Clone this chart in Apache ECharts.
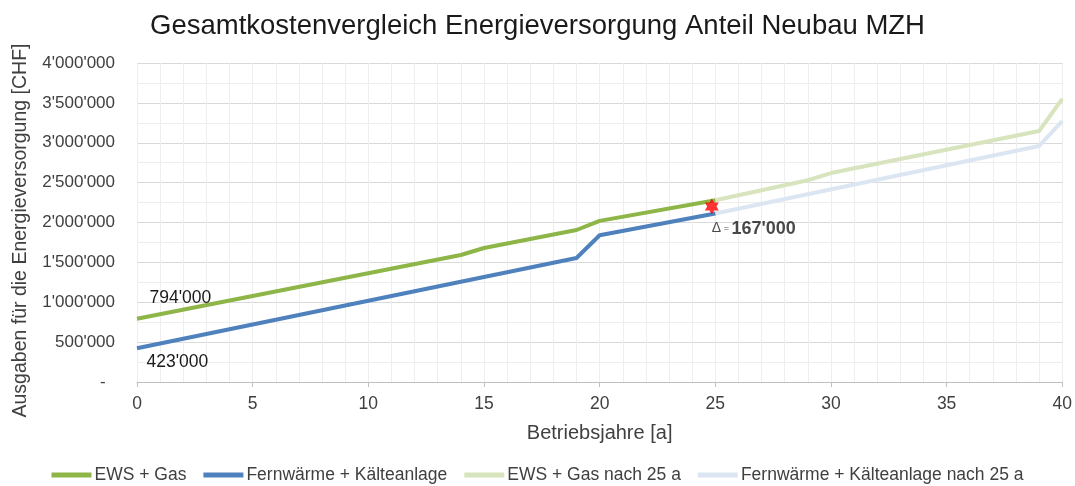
<!DOCTYPE html>
<html>
<head>
<meta charset="utf-8">
<script src="https://cdn.jsdelivr.net/npm/echarts@6/dist/echarts.min.js"></script>
<style>
  html, body { margin: 0; padding: 0; background: #fff; }
  #chart { width: 1075px; height: 486px; }
</style>
</head>
<body>
<div id="chart"></div>
<script>
// Kink points: [Betriebsjahr, CHF]
const ewsGas = [[0, 794000], [14, 1592000], [15, 1680000], [19, 1906000], [20, 2020000], [25, 2280000]]
const fernwaerme = [[0, 423000], [19, 1555000], [20, 1840000], [25, 2113000]]
const ewsGasNach25 = [[25, 2280000], [29, 2530000], [30, 2620000], [39, 3147000], [40, 3550000]]
const fernwaermeNach25 = [[25, 2113000], [39, 2960000], [40, 3270000]]
const deltaPoint = [[24.85, 2200000]]
const deltaText = "167'000"

const FONT = 'Liberation Sans, Arial, sans-serif'
const TXT = '#404040'

function chf(v) {
  if (v === 0) return '-  '
  return String(v).replace(/\B(?=(\d{3})+(?!\d))/g, "'")
}

const star = 'path://M0,-10 L2.887,-5 L8.66,-5 L5.774,0 L8.66,5 L2.887,5 L0,10 L-2.887,5 L-8.66,5 L-5.774,0 L-8.66,-5 L-2.887,-5 Z'

let chart = echarts.init(document.getElementById('chart'), null, { renderer: 'canvas' })
let chartOpt = {
  animation: false,
  textStyle: { fontFamily: FONT },
  title: {
    text: 'Gesamtkostenvergleich Energieversorgung Anteil Neubau MZH',
    left: 'center',
    top: 7,
    textStyle: { fontFamily: FONT, fontSize: 27.5, fontWeight: 'normal', color: '#1a1a1a' }
  },
  legend: {
    top: 461,
    left: 'center',
    itemWidth: 40,
    itemHeight: 5,
    itemGap: 17,
    icon: 'rect',
    textStyle: { fontFamily: FONT, fontSize: 17.5, color: TXT, padding: [0, 0, 0, -2] },
    data: ['EWS + Gas', 'Fernwärme + Kälteanlage', 'EWS + Gas nach 25 a', 'Fernwärme + Kälteanlage nach 25 a']
  },
  grid: { left: 137, right: 12, top: 63, bottom: 104 },
  xAxis: {
    type: 'value',
    min: 0,
    max: 40,
    interval: 5,
    name: 'Betriebsjahre [a]',
    nameLocation: 'middle',
    nameGap: 41,
    nameTextStyle: { fontFamily: FONT, fontSize: 20, color: TXT },
    axisLine: { lineStyle: { color: '#bfbfbf', width: 1 } },
    axisTick: { show: true, length: 5, lineStyle: { color: '#bfbfbf' } },
    axisLabel: { fontFamily: FONT, fontSize: 17.5, color: TXT, margin: 13 },
    splitLine: { show: true, lineStyle: { color: '#eeeeee', width: 1 } },
    minorTick: { show: false, splitNumber: 5 },
    minorSplitLine: { show: true, lineStyle: { color: '#eeeeee', width: 1 } }
  },
  yAxis: {
    type: 'value',
    min: 0,
    max: 4000000,
    interval: 500000,
    name: 'Ausgaben für die Energieversorgung [CHF]',
    nameLocation: 'middle',
    nameGap: 106,
    nameRotate: 90,
    nameTextStyle: { fontFamily: FONT, fontSize: 19.5, color: TXT, padding: [0, 16, 0, 0] },
    axisLine: { show: false },
    axisTick: { show: false },
    axisLabel: { fontFamily: FONT, fontSize: 17, color: TXT, margin: 22, formatter: chf },
    splitLine: { show: true, lineStyle: { color: '#d9d9d9', width: 1 } },
    minorTick: { show: false, splitNumber: 2 },
    minorSplitLine: { show: true, lineStyle: { color: '#eeeeee', width: 1 } }
  },
  series: [
    {
      name: 'EWS + Gas nach 25 a',
      type: 'line',
      data: ewsGasNach25,
      showSymbol: false,
      symbol: 'none',
      color: '#d7e4bd',
      lineStyle: { width: 4, color: '#d7e4bd' },
      z: 2
    },
    {
      name: 'Fernwärme + Kälteanlage nach 25 a',
      type: 'line',
      data: fernwaermeNach25,
      showSymbol: false,
      symbol: 'none',
      color: '#dce6f2',
      lineStyle: { width: 4, color: '#dce6f2' },
      z: 2
    },
    {
      name: 'EWS + Gas',
      type: 'line',
      data: ewsGas,
      symbol: 'none',
      color: '#8db547',
      lineStyle: { width: 4, color: '#8db547' },
      z: 3,
      markPoint: {
        symbol: 'circle',
        symbolSize: 1,
        itemStyle: { color: 'transparent' },
        label: {
          show: true,
          position: 'right',
          distance: 0,
          offset: [12, -21],
          formatter: p => chf(p.value),
          fontFamily: FONT, fontSize: 17.5, color: '#1a1a1a'
        },
        data: [{ coord: ewsGas[0], value: ewsGas[0][1] }]
      }
    },
    {
      name: 'Fernwärme + Kälteanlage',
      type: 'line',
      data: fernwaerme,
      symbol: 'none',
      color: '#4f81bd',
      lineStyle: { width: 4, color: '#4f81bd' },
      z: 3,
      markPoint: {
        symbol: 'circle',
        symbolSize: 1,
        itemStyle: { color: 'transparent' },
        label: {
          show: true,
          position: 'right',
          distance: 0,
          offset: [9, 14],
          formatter: p => chf(p.value),
          fontFamily: FONT, fontSize: 17.5, color: '#1a1a1a'
        },
        data: [{ coord: fernwaerme[0], value: fernwaerme[0][1] }]
      }
    },
    {
      name: 'Delta',
      type: 'scatter',
      data: deltaPoint,
      symbol: star,
      symbolSize: [14, 16],
      itemStyle: { color: '#ff0000' },
      z: 5,
      label: {
        show: true,
        position: 'right',
        distance: 0,
        offset: [-7, 22],
        formatter: '{d|Δ}{e| = }{v|' + deltaText + '}',
        rich: {
          d: { fontFamily: FONT, fontSize: 14, color: '#1a1a1a' },
          e: { fontFamily: FONT, fontSize: 9, color: '#1a1a1a' },
          v: { fontFamily: FONT, fontSize: 18, fontWeight: 'bold', color: '#1a1a1a' }
        }
      }
    }
  ]
}

chart.setOption(chartOpt)
</script>
</body>
</html>
